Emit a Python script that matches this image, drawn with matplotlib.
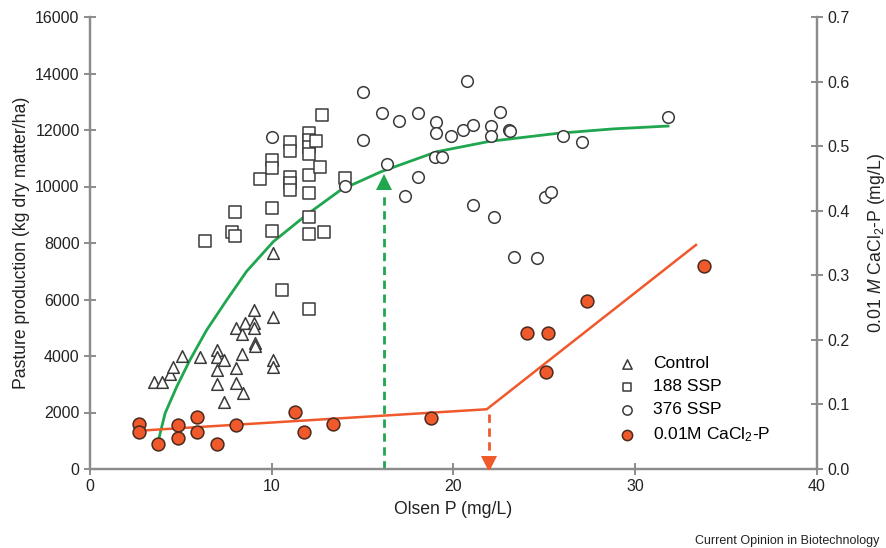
import matplotlib
matplotlib.use("Agg")
import matplotlib.pyplot as plt

plt.rcParams['font.family'] = ['Liberation Sans', 'DejaVu Sans']
plt.rcParams['mathtext.fontset'] = 'custom'
plt.rcParams['mathtext.rm'] = 'Liberation Sans'
plt.rcParams['mathtext.it'] = 'Liberation Sans:italic'

# Control (triangles)
ctrl_x = [3.52, 3.94, 4.40, 4.58, 5.04, 6.05, 7.0, 7.0, 7.37, 7.0, 7.0, 7.37,
          8.03, 8.03, 8.03, 8.34, 8.34, 8.4, 8.53, 9.02, 9.02, 9.02, 9.08, 9.08,
          10.05, 10.05, 10.05, 10.05]
ctrl_y = [3090, 3090, 3360, 3620, 4000, 3980, 4210, 3980, 3860, 3500, 3000, 2380,
          4980, 3560, 3050, 4780, 4070, 2680, 5160, 5630, 5160, 5000, 4450, 4370,
          5390, 3860, 3620, 7640]

# 188 SSP (squares)
ssp188_x = [6.33, 7.8, 8.0, 8.0, 9.35, 10.0, 10.0, 10.0, 10.0, 10.55, 11.0, 11.0,
            11.0, 11.0, 11.0, 12.05, 12.05, 12.05, 12.05, 12.05, 12.05, 12.05,
            12.05, 12.05, 12.43, 12.65, 12.75, 12.85, 14.03]
ssp188_y = [8070, 8380, 8260, 9110, 10270, 10940, 10640, 9250, 8420, 6340, 11560,
            11260, 10350, 10140, 9880, 11880, 11650, 11410, 11140, 10400, 9780,
            8910, 8310, 5650, 11620, 10700, 12530, 8400, 10310]

# 376 SSP (circles)
ssp376_x = [10.0, 14.03, 15.0, 15.0, 16.05, 16.32, 17.02, 17.33, 18.03, 18.03,
            18.98, 19.04, 19.04, 19.35, 19.85, 20.54, 20.73, 21.05, 21.05, 22.05,
            22.05, 22.23, 22.56, 23.07, 23.1, 23.33, 24.57, 25.03, 25.36, 26.04,
            27.05, 31.82]
ssp376_y = [11740, 10020, 13330, 11650, 12590, 10790, 12330, 9680, 12590, 10350,
            11030, 12270, 11900, 11030, 11790, 12000, 13730, 12180, 9350, 12140,
            11800, 8930, 12650, 12000, 11950, 7490, 7460, 9640, 9790, 11770,
            11560, 12450]

# 0.01M CaCl2-P (right axis)
cacl_x = [2.70, 2.70, 3.76, 4.82, 4.82, 5.87, 5.87, 6.97, 8.03, 11.28, 11.79,
          13.39, 18.76, 24.06, 25.22, 25.07, 27.36, 33.78]
cacl_y = [0.0697, 0.0578, 0.0382, 0.0677, 0.0475, 0.080, 0.0578, 0.0382, 0.0681,
          0.0878, 0.0578, 0.0697, 0.0785, 0.210, 0.210, 0.150, 0.260, 0.315]

# fitted response curve (green) and broken-stick line (orange)
fit_x = [3.76, 4.13, 4.77, 5.50, 6.42, 7.52, 8.62, 10.09, 11.92, 13.8, 16.0,
         19.07, 22.0, 25.7, 28.8, 31.8]
fit_y = [1000, 1970, 2910, 3860, 4920, 5980, 7000, 8050, 9000, 9880, 10520,
         11230, 11600, 11880, 12040, 12140]
seg_x = [2.7, 21.83, 33.34]
seg_y = [0.0593, 0.0925, 0.347]

# critical values (arrows)
crit_olsen = 16.2
crit_olsen_y = 10350
change_point = 21.95
change_point_y = 0.085

GREEN = '#1fa64f'
ORANGE = '#f0592b'
EDGE = '#3a3a3a'
SPINE = '#8c8c8c'

fig = plt.figure(figsize=(8.87, 5.48), dpi=100)
ax = fig.add_axes([90 / 887, 1 - 469 / 548, 727 / 887, 452 / 548])
ax2 = ax.twinx()

ax.plot(fit_x, fit_y, color=GREEN, lw=2.0, zorder=2, solid_joinstyle='round')
ax.plot([crit_olsen, crit_olsen], [0, crit_olsen_y - 550], color=GREEN, lw=2.0,
        dashes=[3, 2], zorder=2)
ax.plot(crit_olsen, crit_olsen_y - 200, marker='^', ms=11, color=GREEN,
        markeredgewidth=0, zorder=3)

ax.scatter(ctrl_x, ctrl_y, marker='^', s=70, facecolors='white', edgecolors=EDGE,
           linewidths=1.1, zorder=4, label='Control')
ax.scatter(ssp188_x, ssp188_y, marker='s', s=65, facecolors='white', edgecolors=EDGE,
           linewidths=1.1, zorder=4, label='188 SSP')
ax.scatter(ssp376_x, ssp376_y, marker='o', s=70, facecolors='white', edgecolors=EDGE,
           linewidths=1.1, zorder=4, label='376 SSP')

ax2.plot(seg_x, seg_y, color=ORANGE, lw=1.8, zorder=2)
ax2.plot([change_point, change_point], [change_point_y, 0.012], color=ORANGE, lw=2.0,
         dashes=[3, 2], zorder=2)
ax2.plot(change_point, 0.008, marker='v', ms=11, color=ORANGE, markeredgewidth=0,
         zorder=3)
ax2.scatter(cacl_x, cacl_y, marker='o', s=85, facecolors=ORANGE, edgecolors='#4a2a1e',
            linewidths=1.1, zorder=4, label=r'0.01M CaCl$_2$-P')

ax.set_xlim(0, 40)
ax.set_ylim(0, 16000)
ax2.set_ylim(0, 0.7)
ax.set_xticks([0, 10, 20, 30, 40])
ax.set_yticks(range(0, 16001, 2000))
ax2.set_yticks([0.0, 0.1, 0.2, 0.3, 0.4, 0.5, 0.6, 0.7])
ax2.set_yticklabels(['0.0', '0.1', '0.2', '0.3', '0.4', '0.5', '0.6', '0.7'])

for a in (ax, ax2):
    a.spines['top'].set_visible(False)
    for s in ('left', 'right', 'bottom'):
        a.spines[s].set_color(SPINE)
        a.spines[s].set_linewidth(1.6)
    a.tick_params(labelsize=11.5, colors=SPINE, labelcolor='#222222', width=1.4,
                  direction='inout', length=8)
ax.tick_params(axis='x', pad=3)

ax.set_xlabel('Olsen P (mg/L)', fontsize=12.7, color='#222222', labelpad=5)
ax.set_ylabel('Pasture production (kg dry matter/ha)', fontsize=12.7,
              color='#222222', labelpad=4)
ax2.set_ylabel(r'0.01 $\it{M}$ CaCl$_2$-P (mg/L)', fontsize=12.7, color='#222222',
               labelpad=12)

h1, l1 = ax.get_legend_handles_labels()
h2, l2 = ax2.get_legend_handles_labels()
leg = ax2.legend(h1 + h2, l1 + l2, loc='upper left', bbox_to_anchor=(0.71, 0.265),
                 frameon=False, fontsize=12.5, handletextpad=0.7, labelspacing=0.45,
                 markerscale=0.8, borderaxespad=0, handlelength=1.6)

fig.text(695 / 887, 1 - 541 / 548, 'Current Opinion in Biotechnology', fontsize=9,
         ha='left', va='center', color='#222222')

fig.savefig('out.png', dpi=100)
